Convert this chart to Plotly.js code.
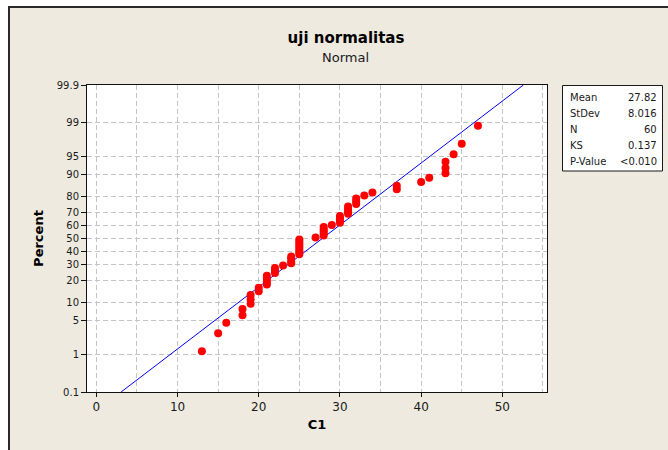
<!DOCTYPE html>
<html>
<head>
<meta charset="utf-8">
<script src="https://cdn.plot.ly/plotly-3.0.1.min.js"></script>
<style>html,body{margin:0;padding:0;background:#ffffff;}#chart{width:668px;height:450px;}</style>
</head>
<body>
<div id="chart"></div>
<script>
// ---- data ----
const c1Values = [13,15,16,18,18,19,19,19,20,20,21,21,21,21,22,22,22,23,
  24,24,24,24,25,25,25,25,25,25,25,25,27,28,28,28,28,28,29,
  30,30,30,30,31,31,31,31,32,32,32,33,34,37,37,40,41,43,43,43,44,45,47];
const percentTicks  = [0.1, 1, 5, 10, 20, 30, 40, 50, 60, 70, 80, 90, 95, 99, 99.9];
const percentLabels = ['0.1','1','5','10','20','30','40','50','60','70','80','90','95','99','99.9'];
const xTickVals   = [0, 10, 20, 30, 40, 50];
const xTickLabels = ['0','10','20','30','40','50'];
const statLabels = ['Mean','StDev','N','KS','P-Value'];
const statValues = ['27.82','8.016','60','0.137','<0.010'];
const chartTitle = 'uji normalitas';
const chartSubtitle = 'Normal';
const xTitle = 'C1';
const yTitle = 'Percent';

// ---- inverse normal CDF (probability scale) ----
function normInv(p){
  const a=[-3.969683028665376e+01,2.209460984245205e+02,-2.759285104469687e+02,1.383577518672690e+02,-3.066479806614716e+01,2.506628277459239e+00];
  const b=[-5.447609879822406e+01,1.615858368580409e+02,-1.556989798598866e+02,6.680131188771972e+01,-1.328068155288572e+01];
  const c=[-7.784894002430293e-03,-3.223964580411365e-01,-2.400758277161838e+00,-2.549732539343734e+00,4.374664141464968e+00,2.938163982698783e+00];
  const d=[7.784695709041462e-03,3.224671290700398e-01,2.445134137142996e+00,3.754408661907416e+00];
  const pl=0.02425, ph=1-pl; let q,r;
  if(p<pl){q=Math.sqrt(-2*Math.log(p));return (((((c[0]*q+c[1])*q+c[2])*q+c[3])*q+c[4])*q+c[5])/((((d[0]*q+d[1])*q+d[2])*q+d[3])*q+1);}
  if(p<=ph){q=p-0.5;r=q*q;return (((((a[0]*r+a[1])*r+a[2])*r+a[3])*r+a[4])*r+a[5])*q/(((((b[0]*r+b[1])*r+b[2])*r+b[3])*r+b[4])*r+1);}
  q=Math.sqrt(-2*Math.log(1-p));return -(((((c[0]*q+c[1])*q+c[2])*q+c[3])*q+c[4])*q+c[5])/((((d[0]*q+d[1])*q+d[2])*q+d[3])*q+1);
}

// plotting positions (median ranks, as Minitab)
const sorted = c1Values.slice().sort((a,b)=>a-b);
const n = sorted.length;
const zPts = sorted.map((v,i)=>normInv((i+1-0.3)/(n+0.4)));
const zTicks = percentTicks.map(p=>normInv(p/100));
const zMin = zTicks[0], zMax = zTicks[zTicks.length-1];

// fitted normal line from the reported mean and stdev
const mu = parseFloat(statValues[0]), sd = parseFloat(statValues[1]);
const fitX = [mu + sd*zMin, mu + sd*zMax];
const fitY = [zMin, zMax];

// ---- layout geometry (pixels) ----
const W=668, H=450, L=87, R=547, T=85, B=392;
const px = x => (x-L)/(R-L);
const py = y => (B-y)/(B-T);

const font = 'DejaVu Sans, Verdana, sans-serif';
const txt = '#1a1a1a';
const grid = {gridcolor:'#c4c4c4', gridwidth:1, griddash:'5px,3px'};

const annotations = [
  {text:chartSubtitle, xref:'paper', yref:'paper', x:px(345), y:py(58), xanchor:'center', yanchor:'middle', showarrow:false, font:{family:font, size:13, color:txt}}
];
const rowY = [97, 113, 129.5, 145.5, 161.5];
statLabels.forEach((s,i)=>{
  annotations.push({text:s, xref:'paper', yref:'paper', x:px(568), y:py(rowY[i]), xanchor:'left', yanchor:'middle', showarrow:false, font:{family:font, size:10, color:txt}});
  annotations.push({text:statValues[i], xref:'paper', yref:'paper', x:px(659), y:py(rowY[i]), xanchor:'right', yanchor:'middle', showarrow:false, font:{family:font, size:10, color:txt}});
});

const shapes = [
  {type:'rect', xref:'paper', yref:'paper', x0:px(9), x1:px(700), y0:py(7), y1:py(480), fillcolor:'#eeeadf', line:{color:'#2a2a2a', width:2}, layer:'below'},
  {type:'rect', xref:'paper', yref:'paper', x0:0, x1:1, y0:0, y1:1, fillcolor:'#ffffff', line:{width:0}, layer:'below'},
  {type:'rect', xref:'paper', yref:'paper', x0:px(562.5), x1:px(662.5), y0:py(171), y1:py(85.5), fillcolor:'#ffffff', line:{color:'#1a1a1a', width:1}, layer:'above'}
];

const traces = [
  {x:fitX, y:fitY, type:'scatter', mode:'lines', line:{color:'#0000ff', width:1}, hoverinfo:'skip', cliponaxis:true},
  {x:sorted, y:zPts, type:'scatter', mode:'markers', marker:{color:'#ff0000', size:8, line:{width:0}}}
];

const layout = {
  width:W, height:H,
  paper_bgcolor:'#ffffff', plot_bgcolor:'rgba(0,0,0,0)',
  margin:{l:L, r:W-R, t:T, b:H-B, pad:0},
  showlegend:false,
  title:{text:'<b>'+chartTitle+'</b>', xref:'container', yref:'container', x:346/W, y:1-38/H, xanchor:'center', yanchor:'middle', font:{family:font, size:15, color:'#000'}},
  xaxis:Object.assign({
    range:[-1.15, 55.5], tickmode:'array', tickvals:xTickVals, ticktext:xTickLabels,
    showgrid:true, zeroline:false, showline:true, mirror:true, linecolor:'#111', linewidth:1,
    ticks:'outside', ticklen:4, tickcolor:'#111',
    tickfont:{family:font, size:12, color:txt},
    minor:{tick0:0, dtick:5, showgrid:true, gridcolor:'#c4c4c4', griddash:'5px,3px', ticks:''},
    title:{text:'<b>'+xTitle+'</b>', standoff:6, font:{family:font, size:13, color:'#000'}}
  }, grid),
  yaxis:Object.assign({
    range:[zMin, zMax], tickmode:'array', tickvals:zTicks, ticktext:percentLabels,
    showgrid:true, zeroline:false, showline:true, mirror:true, linecolor:'#111', linewidth:1,
    ticks:'outside', ticklen:5, tickcolor:'#111',
    tickfont:{family:font, size:10, color:txt},
    title:{text:'<b>'+yTitle+'</b>', standoff:10, font:{family:font, size:13, color:'#000'}}
  }, grid),
  shapes:shapes,
  annotations:annotations,
  hovermode:false
};

Plotly.newPlot('chart', traces, layout, {displayModeBar:false, staticPlot:true});
</script>
</body>
</html>
